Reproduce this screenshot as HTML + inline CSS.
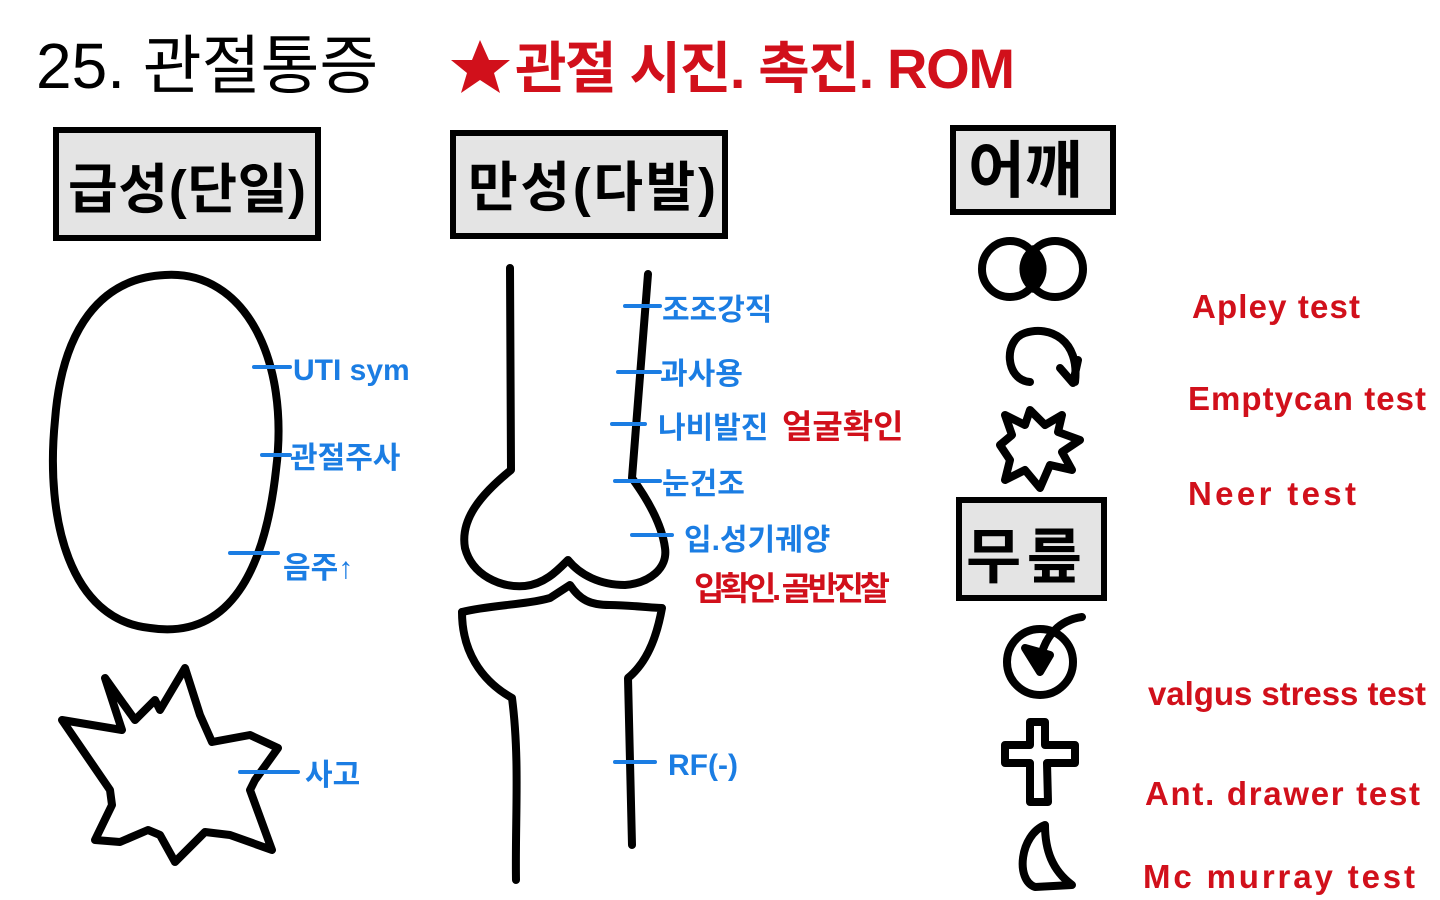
<!DOCTYPE html><html><head><meta charset="utf-8"><style>
html,body{margin:0;padding:0;background:#fff}
svg{display:block}
text{font-family:"Liberation Sans","Noto Sans CJK KR",sans-serif}
.b{fill:#1b7de3;font-weight:bold;font-size:30px}
.r{fill:#d1101b;font-weight:bold;font-size:33px}
.ln{stroke:#000;stroke-width:8;fill:none;stroke-linecap:round;stroke-linejoin:round}
.bl{stroke:#1b7de3;stroke-width:4;stroke-linecap:round}
.bx{fill:#e4e4e4;stroke:#000;stroke-width:6}
</style></head><body>
<svg width="1440" height="900" viewBox="0 0 1440 900">
<text x="36" y="88" font-size="64" fill="#000">25. 관절통증</text>
<polygon points="480,40 489,60 510,60 494,73 500,93 480,80 461,93 467,73 451,60 472,60" fill="#d1101b"/>
<text x="515" y="88" font-size="56" font-weight="bold" fill="#d1101b" textLength="500">관절 시진. 촉진. ROM</text>

<rect class="bx" x="56" y="130" width="262" height="108"/>
<text x="68" y="208" font-size="54" font-weight="bold" textLength="238">급성(단일)</text>
<rect class="bx" x="453" y="133" width="272" height="103"/>
<text x="468" y="206" font-size="54" font-weight="bold" textLength="248">만성(다발)</text>
<rect class="bx" x="953" y="128" width="160" height="84"/>
<text x="968" y="192" font-size="62" font-weight="bold">어깨</text>
<rect class="bx" x="959" y="500" width="145" height="98"/>
<text x="966" y="578" font-size="60" font-weight="bold" textLength="116">무릎</text>

<path class="ln" d="M165,275 C245,270 290,360 276,470 C265,570 230,640 150,628 C70,620 45,520 55,420 C62,330 100,278 165,275 Z"/>
<polygon class="ln" points="105,678 135,720 155,700 160,710 185,668 200,715 212,742 250,735 278,748 255,780 250,790 272,850 230,835 205,832 175,862 160,835 148,830 120,842 95,840 112,805 110,790 62,720 122,730"/>

<line class="bl" x1="254" y1="367" x2="290" y2="367"/>
<text class="b" x="293" y="380">UTI sym</text>
<line class="bl" x1="262" y1="455" x2="290" y2="455"/>
<text class="b" x="290" y="468">관절주사</text>
<line class="bl" x1="230" y1="553" x2="278" y2="553"/>
<text class="b" x="283" y="578">음주↑</text>
<line class="bl" x1="240" y1="772" x2="298" y2="772"/>
<text class="b" x="305" y="785">사고</text>

<path class="ln" d="M510,268 L511,470 C480,495 460,520 465,548 C472,575 500,588 525,586 C545,584 558,570 568,560 C580,575 600,585 625,585 C650,583 668,568 665,548 C662,525 648,500 632,478 L648,274"/>
<path class="ln" d="M462,612 C490,605 525,605 550,598 L570,585 C580,600 590,605 610,605 C630,605 650,608 662,608 C658,630 650,660 628,678 L632,845"/>
<path class="ln" d="M462,612 C462,650 480,680 512,698 C520,760 515,820 516,880"/>

<line class="bl" x1="625" y1="306" x2="660" y2="306"/>
<text class="b" x="662" y="320">조조강직</text>
<line class="bl" x1="618" y1="372" x2="660" y2="372"/>
<text class="b" x="660" y="384">과사용</text>
<line class="bl" x1="612" y1="424" x2="645" y2="424"/>
<text class="b" x="658" y="438">나비발진</text>
<text class="r" x="782" y="438" font-size="30">얼굴확인</text>
<line class="bl" x1="615" y1="481" x2="660" y2="481"/>
<text class="b" x="662" y="494">눈건조</text>
<line class="bl" x1="632" y1="535" x2="672" y2="535"/>
<text class="b" x="684" y="550">입.성기궤양</text>
<text class="r" x="694" y="600" font-size="30" textLength="196">입확인. 골반진찰</text>
<line class="bl" x1="615" y1="762" x2="655" y2="762"/>
<text class="b" x="668" y="775">RF(-)</text>

<path d="M1033,245 A28,28 0 0 1 1033,293 A28,28 0 0 1 1033,245Z" fill="#000"/>
<circle class="ln" cx="1010" cy="269" r="28"/>
<circle class="ln" cx="1055" cy="269" r="28"/>
<path class="ln" d="M1030,382 C1005,380 1003,340 1025,333 C1050,325 1080,340 1075,382 M1060,368 L1073,383 L1078,360"/>
<polygon class="ln" points="1005,415 1025,425 1030,410 1045,425 1062,415 1058,432 1080,440 1062,452 1072,470 1050,465 1040,488 1025,470 1005,480 1010,460 1000,445 1012,435"/>
<circle class="ln" cx="1040" cy="662" r="33"/>
<path class="ln" d="M1082,617 C1060,620 1045,635 1040,660"/>
<polygon points="1025,648 1050,655 1040,672" fill="#000" stroke="#000" stroke-width="8" stroke-linejoin="round"/>
<path class="ln" d="M1030,722 L1045,722 L1045,745 L1075,745 L1075,763 L1047,763 L1048,802 L1030,802 L1030,763 L1005,763 L1005,745 L1030,745 Z"/>
<path class="ln" d="M1045,825 C1020,835 1015,880 1035,887 L1072,885 C1052,870 1045,850 1045,825 Z"/>

<text class="r" x="1192" y="318" textLength="168">Apley test</text>
<text class="r" x="1188" y="410" textLength="238">Emptycan test</text>
<text class="r" x="1188" y="505" textLength="168">Neer test</text>
<text class="r" x="1148" y="705" textLength="278">valgus stress test</text>
<text class="r" x="1145" y="805" textLength="275">Ant. drawer test</text>
<text class="r" x="1143" y="888" textLength="272">Mc murray test</text>
</svg></body></html>
